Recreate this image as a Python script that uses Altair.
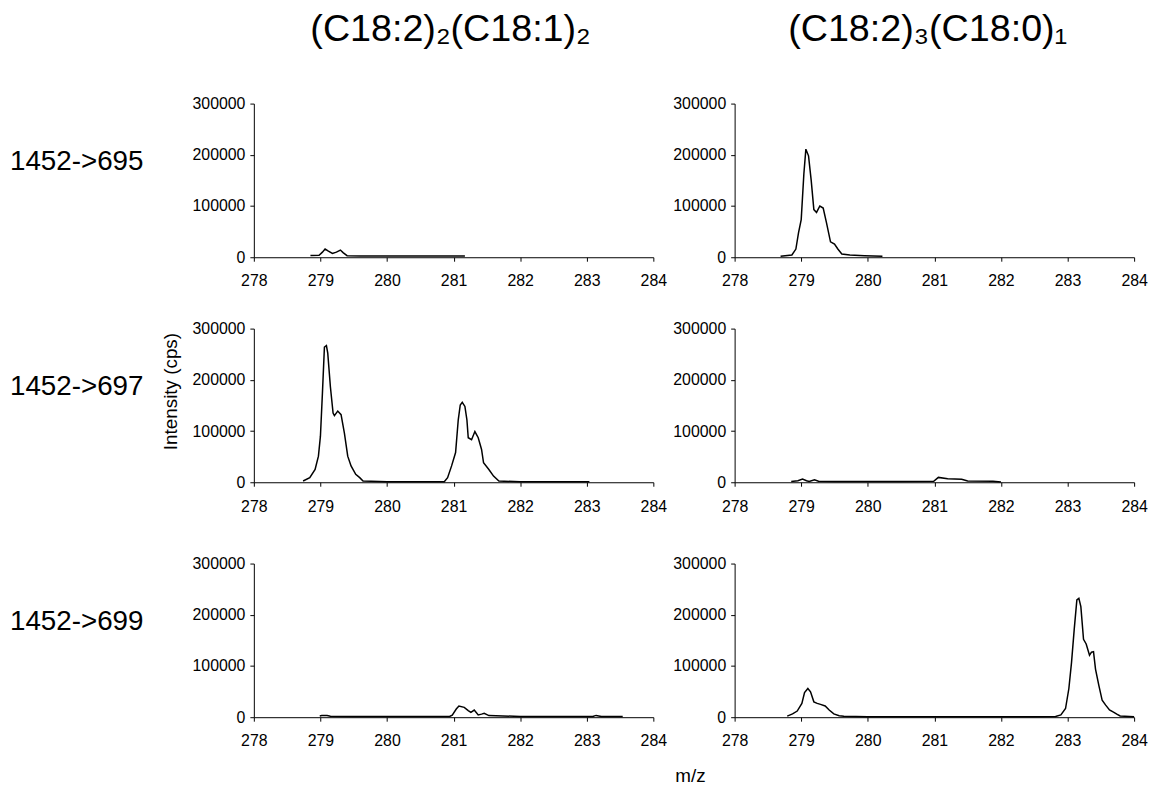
import altair as alt
import pandas as pd

FONT = "Liberation Sans"

col_titles = ["(C18:2)₂(C18:1)₂", "(C18:2)₃(C18:0)₁"]
row_labels = ["1452->695", "1452->697", "1452->699"]
y_title = "Intensity (cps)"
x_title = "m/z"
x_ticks = [278, 279, 280, 281, 282, 283, 284]
y_ticks = [0, 100000, 200000, 300000]

# (C18:2)2(C18:1)2, 1452->695
a_mz = [278.85, 278.98, 279.03, 279.07, 279.12, 279.18, 279.24, 279.30, 279.34, 279.40,
        279.6, 280.0, 280.5, 281.0, 281.17]
a_int = [3500, 4000, 10000, 16000, 12000, 7500, 10000, 14000, 9000, 3000,
         2500, 2500, 2500, 2500, 2500]

# (C18:2)2(C18:1)2, 1452->697
b_mz = [278.74, 278.84, 278.92, 278.97, 279.00, 279.03, 279.06, 279.09, 279.11, 279.15,
        279.19, 279.21, 279.26, 279.31, 279.36, 279.41, 279.46, 279.53, 279.59, 279.64,
        279.76, 280.0, 280.5, 280.86, 280.91, 280.97, 281.03, 281.07, 281.10, 281.13,
        281.17, 281.20, 281.22, 281.27, 281.32, 281.37, 281.42, 281.45, 281.53, 281.60,
        281.68, 282.0, 282.5, 283.04]
b_int = [2500, 9000, 25000, 51000, 90000, 174000, 264000, 267000, 252000, 186000,
         135000, 130000, 139000, 132000, 96000, 51000, 32000, 15500, 9000, 2500,
         2000, 1000, 1000, 1000, 9000, 32000, 58000, 122000, 151000, 156000,
         148000, 122000, 87000, 83000, 99000, 87000, 64000, 38000, 25000, 12000,
         2500, 1000, 1000, 1000]

# (C18:2)2(C18:1)2, 1452->699
e_mz = [278.99, 279.02, 279.10, 279.15, 279.5, 280.0, 280.5, 280.94, 280.98, 281.04,
        281.08, 281.16, 281.22, 281.26, 281.31, 281.37, 281.42, 281.46, 281.53, 282.0,
        282.5, 283.09, 283.14, 283.22, 283.54]
e_int = [2500, 3500, 3500, 2000, 1500, 1500, 1500, 1500, 4000, 16000,
         21800, 19300, 13000, 9600, 14000, 4500, 6000, 7700, 3200, 1500,
         1500, 1500, 3500, 1500, 1500]

# (C18:2)3(C18:0)1, 1452->695
c_mz = [278.69, 278.86, 278.92, 278.96, 279.00, 279.04, 279.07, 279.11, 279.15, 279.19,
        279.23, 279.28, 279.33, 279.38, 279.44, 279.50, 279.55, 279.61, 279.73, 279.95,
        280.22]
c_int = [1900, 4400, 16000, 48000, 73500, 163000, 211000, 198000, 150000, 93000,
         87500, 100000, 96000, 67000, 30000, 25500, 16000, 6400, 4400, 3000,
         2000]

# (C18:2)3(C18:0)1, 1452->697
d_mz = [278.85, 278.95, 279.02, 279.08, 279.12, 279.20, 279.26, 279.5, 280.0, 280.5,
        280.99, 281.06, 281.2, 281.41, 281.5, 281.88, 282.0]
d_int = [1500, 3000, 6400, 3000, 1500, 5000, 2000, 1500, 1500, 1500,
         2000, 9500, 7000, 6000, 2500, 2000, 500]

# (C18:2)3(C18:0)1, 1452->699
f_mz = [278.79, 278.87, 278.94, 279.01, 279.05, 279.10, 279.14, 279.19, 279.24, 279.29,
        279.36, 279.42, 279.49, 279.57, 279.64, 280.0, 280.5, 281.0, 281.5, 282.0,
        282.5, 282.82, 282.90, 282.97, 283.02, 283.06, 283.10, 283.14, 283.17, 283.20,
        283.24, 283.28, 283.33, 283.36, 283.39, 283.42, 283.47, 283.52, 283.57, 283.63,
        283.69, 283.74, 283.79, 284.0]
f_int = [2000, 6500, 12000, 27000, 48000, 56000, 49500, 30000, 27000, 25000,
         22000, 14000, 6500, 3000, 2000, 1000, 1000, 1000, 1000, 1000,
         1000, 1500, 4500, 17000, 56000, 107000, 171000, 229000, 232000, 216000,
         152000, 143000, 121000, 127000, 128000, 94000, 62000, 33000, 24000, 14000,
         10000, 6000, 2500, 1000]

W, H = 403, 155


def panel(mz, inten, title=None, title_dx=0, row_label=None, ytitle=False, xtitle=False):
    df = pd.DataFrame({"mz": mz, "intensity": inten})
    xaxis_kw = dict(values=x_ticks, format="d", labelFlush=False, title=None)
    if xtitle:
        xaxis_kw.update(title=x_title, titleX=440, titleY=65, titleAlign="center",
                        titleBaseline="alphabetic", titleFontSize=19, titleFont=FONT,
                        titleFontWeight="normal", titleColor="black")
    yaxis_kw = dict(values=y_ticks, format="d", labelFlush=False, title=None)
    if ytitle:
        yaxis_kw.update(title=y_title, titleX=-84, titleY=63, titleAlign="center",
                        titleBaseline="middle", titleFontSize=19, titleFont=FONT,
                        titleFontWeight="normal", titleColor="black")
    line = alt.Chart(df).mark_line(color="black", strokeWidth=1.5).encode(
        x=alt.X("mz:Q", scale=alt.Scale(domain=[278, 284], nice=False, zero=False),
                axis=alt.Axis(**xaxis_kw)),
        y=alt.Y("intensity:Q", scale=alt.Scale(domain=[0, 300000], nice=False),
                axis=alt.Axis(**yaxis_kw)),
    )
    layers = [line]
    if row_label is not None:
        lab = alt.Chart(pd.DataFrame({"label": [row_label]})).mark_text(
            align="left", baseline="middle", fontSize=28, font=FONT, color="black"
        ).encode(text="label:N", x=alt.value(-246), y=alt.value(59))
        layers.append(lab)
    ch = alt.layer(*layers).properties(width=W, height=H)
    if title is not None:
        ch = ch.properties(title=alt.TitleParams(
            text=title, anchor="start", frame="group", dx=title_dx, offset=17,
            fontSize=38, font=FONT, fontWeight="normal", color="black",
            baseline="alphabetic"))
    return ch


def spacer(h):
    return alt.Chart(pd.DataFrame({"v": [0]})).mark_point(opacity=0, size=0).properties(
        width=W, height=h)


pA = panel(a_mz, a_int, title=col_titles[0], title_dx=57, row_label=row_labels[0])
pC = panel(c_mz, c_int, title=col_titles[1], title_dx=54)
pB = panel(b_mz, b_int, row_label=row_labels[1], ytitle=True)
pD = panel(d_mz, d_int)
pE = panel(e_mz, e_int, row_label=row_labels[2], xtitle=True)
pF = panel(f_mz, f_int)

s1 = spacer(72)
s2 = spacer(82)

chart = alt.concat(
    pA, pC, s1, s1, pB, pD, s2, s2, pE, pF,
    columns=2, spacing={"row": 0, "column": 82}, bounds="flush",
).properties(
    padding={"left": 2, "top": 0, "right": 0, "bottom": 0}
).configure_view(stroke=None).configure_axis(
    grid=False, domainColor="black", tickColor="black", labelColor="black",
    labelFont=FONT, labelFontSize=16, tickSize=4, domainWidth=1, tickWidth=1,
).configure_axisX(labelPadding=12).configure_axisY(labelPadding=5)

chart.save("out.html", embed_options={"renderer": "svg", "actions": False})
